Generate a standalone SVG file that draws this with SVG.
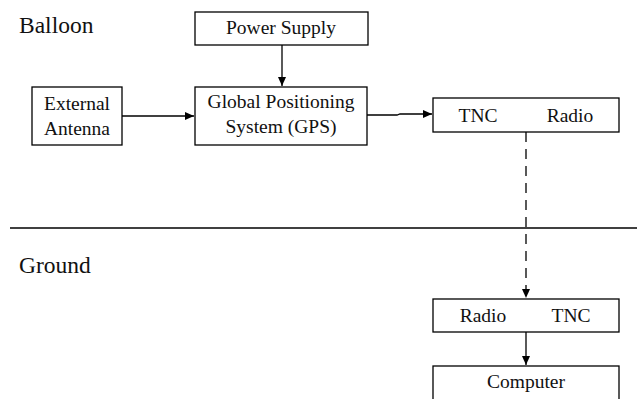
<svg xmlns="http://www.w3.org/2000/svg" width="637" height="399" viewBox="0 0 637 399">
<style>
.box{fill:#fff;stroke:#000;stroke-width:1.3}
.t{font-size:19.5px;fill:#111;text-anchor:middle}
.lbl{font-size:23.5px;fill:#111}
.c{stroke:#000;stroke-width:1.3;fill:none}
</style>
<defs>
<marker id="ah" markerWidth="10" markerHeight="10" refX="9" refY="5" orient="auto" markerUnits="userSpaceOnUse">
<path d="M0,1 L9,5 L0,9 Z" fill="#000"/>
</marker>
</defs>
<rect width="637" height="399" fill="#fff"/>
<g font-family="Liberation Serif">
<text class="lbl" x="19" y="33">Balloon</text>
<text class="lbl" x="19" y="273">Ground</text>
<g id="connectors">
<line class="c" x1="10" y1="228" x2="637" y2="228"/>
<line class="c" x1="282" y1="45" x2="282" y2="86" marker-end="url(#ah)"/>
<line class="c" x1="122" y1="116" x2="194" y2="116" marker-end="url(#ah)"/>
<polyline class="c" points="367,115 397,115 400,114 432,114" marker-end="url(#ah)"/>
<line class="c" x1="526" y1="132" x2="526" y2="298" stroke-dasharray="10,7" marker-end="url(#ah)"/>
<line class="c" x1="526" y1="332" x2="526" y2="365" marker-end="url(#ah)"/>
</g>
<g id="power-supply">
<rect class="box" x="195" y="12" width="173" height="33"/>
<text class="t" x="281" y="34">Power Supply</text>
</g>
<g id="external-antenna">
<rect class="box" x="32" y="87" width="90" height="58"/>
<text class="t" x="77" y="110">External</text>
<text class="t" x="77" y="135">Antenna</text>
</g>
<g id="gps">
<rect class="box" x="195" y="87" width="172" height="58"/>
<text class="t" x="281" y="108">Global Positioning</text>
<text class="t" x="281" y="133">System (GPS)</text>
</g>
<g id="balloon-tnc-radio">
<rect class="box" x="433" y="98" width="186" height="34"/>
<text class="t" x="478" y="122">TNC</text>
<text class="t" x="570" y="122">Radio</text>
</g>
<g id="ground-radio-tnc">
<rect class="box" x="433" y="299" width="186" height="33"/>
<text class="t" x="483" y="322">Radio</text>
<text class="t" x="571" y="322">TNC</text>
</g>
<g id="computer">
<rect class="box" x="433" y="366" width="186" height="50"/>
<text class="t" x="526" y="388">Computer</text>
</g>
</g>
</svg>
